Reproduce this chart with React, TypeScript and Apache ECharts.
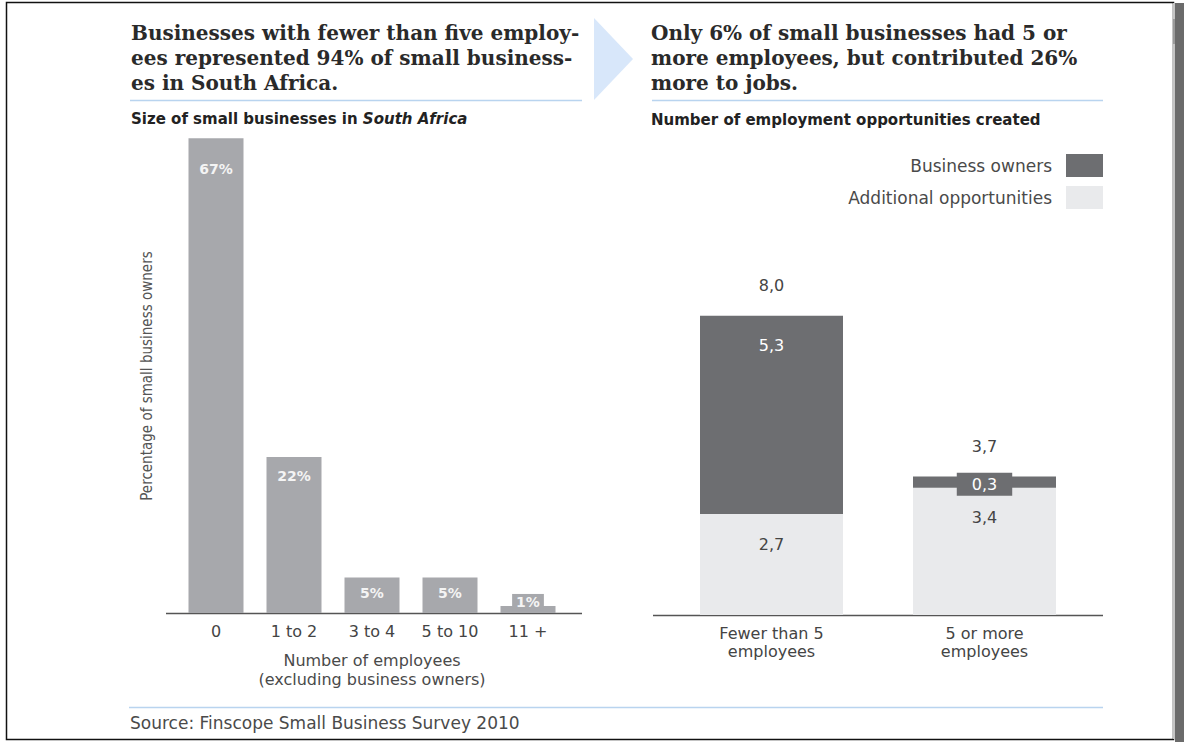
import React, { useEffect, useRef } from "react";
import * as echarts from "echarts";

const leftCategories = ["0", "1 to 2", "3 to 4", "5 to 10", "11 +"];
const leftValues = [67, 22, 5, 5, 1];

const rightCategories = ["Fewer than 5\nemployees", "5 or more\nemployees"];
const additionalOpportunities = [2.7, 3.4];
const businessOwners = [5.3, 0.3];
const totals = [8.0, 3.7];

const leftTitle = "Businesses with fewer than five employ-\nees represented 94% of small business-\nes in South Africa.";
const rightTitle = "Only 6% of small businesses had 5 or\nmore employees, but contributed 26%\nmore to jobs.";
const sourceText = "Source: Finscope Small Business Survey 2010";

const SANS = "'DejaVu Sans', Verdana, sans-serif";
const SERIF = "'DejaVu Serif', Georgia, serif";
const NARROW = "'Liberation Sans Narrow', 'DejaVu Sans Condensed', sans-serif";

const fmt = (v: number) => v.toFixed(1).replace(".", ",");

export default function App() {
  const ref = useRef<HTMLDivElement>(null);
  useEffect(() => {
    if (!ref.current) return;
    const chart = echarts.init(ref.current, null, { renderer: "svg" });
    const leftLabelDist = [24, 12, 8, 8, 0];
    const option: any = {
      animation: false,
      backgroundColor: "#ffffff",
      grid: [
        { left: 177, top: 117, width: 390, height: 496 },
        { left: 665, top: 241, width: 426, height: 374 },
      ],
      legend: {
        data: ["Business owners", "Additional opportunities"],
        orient: "vertical",
        right: 76,
        top: 149,
        align: "right",
        itemWidth: 37,
        itemHeight: 23,
        itemGap: 9,
        icon: "rect",
        textStyle: { fontFamily: SANS, fontSize: 17, color: "#4a4a4a", padding: [0, 9, 0, 0] },
      },
      xAxis: [
        {
          type: "category",
          gridIndex: 0,
          data: leftCategories,
          axisLine: { show: false },
          axisTick: { show: false },
          axisLabel: { fontFamily: SANS, fontSize: 16, color: "#444", margin: 10, interval: 0 },
          name: "Number of employees\n(excluding business owners)",
          nameLocation: "middle",
          nameGap: 38,
          nameTextStyle: { fontFamily: SANS, fontSize: 16, color: "#4a4a4a", lineHeight: 19 },
        },
        {
          type: "category",
          gridIndex: 1,
          data: rightCategories,
          axisLine: { show: false },
          axisTick: { show: false },
          axisLabel: { fontFamily: SANS, fontSize: 16, color: "#444", margin: 9, lineHeight: 18, interval: 0 },
        },
      ],
      yAxis: [
        {
          type: "value",
          gridIndex: 0,
          min: 0,
          max: 70,
          axisLine: { show: false },
          axisTick: { show: false },
          axisLabel: { show: false },
          splitLine: { show: false },
          name: "Percentage of small business owners",
          nameLocation: "middle",
          nameRotate: 90,
          nameGap: 23,
          nameTextStyle: { fontFamily: NARROW, fontSize: 15, color: "#555", padding: [0, 22, 0, 0] },
        },
        {
          type: "value",
          gridIndex: 1,
          min: 0,
          max: 10,
          axisLine: { show: false },
          axisTick: { show: false },
          axisLabel: { show: false },
          splitLine: { show: false },
        },
      ],
      series: [
        {
          type: "bar",
          name: "Share",
          xAxisIndex: 0,
          yAxisIndex: 0,
          barWidth: 55,
          itemStyle: { color: "#a7a8ac" },
          data: leftValues.map((v, i) => ({
            value: v,
            label:
              i === leftValues.length - 1
                ? {
                    position: "inside",
                    offset: [0, -7],
                    backgroundColor: "#a7a8ac",
                    padding: [2, 4, 1, 4],
                  }
                : { position: "insideTop", distance: leftLabelDist[i] },
          })),
          label: {
            show: true,
            formatter: (p: any) => p.value + "%",
            fontFamily: SANS,
            fontSize: 14,
            fontWeight: "bold",
            color: "#f4f4f4",
          },
        },
        {
          type: "bar",
          name: "Additional opportunities",
          xAxisIndex: 1,
          yAxisIndex: 1,
          stack: "jobs",
          barWidth: 143,
          itemStyle: { color: "#e9eaec" },
          data: additionalOpportunities,
          label: {
            show: true,
            position: "insideTop",
            distance: 22,
            formatter: (p: any) => fmt(p.value),
            fontFamily: SANS,
            fontSize: 16,
            color: "#444",
          },
        },
        {
          type: "bar",
          name: "Business owners",
          xAxisIndex: 1,
          yAxisIndex: 1,
          stack: "jobs",
          barWidth: 143,
          itemStyle: { color: "#6d6e71" },
          data: businessOwners.map((v) => ({
            value: v,
            label:
              v < 1
                ? { position: "inside", backgroundColor: "#6d6e71", padding: [4, 15, 3, 15], offset: [0, 2] }
                : { position: "insideTop", distance: 22 },
          })),
          label: {
            show: true,
            formatter: (p: any) => fmt(p.value),
            fontFamily: SANS,
            fontSize: 16,
            color: "#ffffff",
          },
        },
        {
          type: "bar",
          name: "Total",
          xAxisIndex: 1,
          yAxisIndex: 1,
          stack: "jobs",
          barWidth: 143,
          itemStyle: { color: "transparent" },
          data: totals.map(() => 0),
          label: {
            show: true,
            position: "top",
            distance: 22,
            formatter: (p: any) => fmt(totals[p.dataIndex]),
            fontFamily: SANS,
            fontSize: 16,
            color: "#444",
          },
        },
      ],
      graphic: [
        // frame
        { type: "rect", shape: { x: 6.5, y: 2.5, width: 1167, height: 737 }, style: { fill: "none", stroke: "#111", lineWidth: 1.5 }, silent: true },
        { type: "rect", shape: { x: 1175, y: 3, width: 9, height: 739 }, style: { fill: "#6b6b6b" }, silent: true },
        { type: "rect", shape: { x: 1173, y: 3, width: 2, height: 736 }, style: { fill: "#c4c4c4" }, silent: true },
        { type: "rect", shape: { x: 1173, y: 19, width: 2, height: 25 }, style: { fill: "#9a9a9a" }, silent: true },
        // arrow
        { type: "polygon", shape: { points: [[594, 18], [633, 59], [594, 100]] }, style: { fill: "#d8e7fa" }, silent: true },
        // titles
        {
          type: "text",
          x: 131,
          y: 20,
          style: { text: leftTitle, font: `bold 20px ${SERIF}`, fill: "#2a2a2a", lineHeight: 25, textVerticalAlign: "top" },
        },
        {
          type: "text",
          x: 651,
          y: 20,
          style: { text: rightTitle, font: `bold 20px ${SERIF}`, fill: "#2a2a2a", lineHeight: 25, textVerticalAlign: "top" },
        },
        // rules
        { type: "line", shape: { x1: 130, y1: 100.5, x2: 582, y2: 100.5 }, style: { stroke: "#b9d4ef", lineWidth: 1.5 } },
        { type: "line", shape: { x1: 652, y1: 100.5, x2: 1103, y2: 100.5 }, style: { stroke: "#b9d4ef", lineWidth: 1.5 } },
        { type: "line", shape: { x1: 129, y1: 707.5, x2: 1103, y2: 707.5 }, style: { stroke: "#b9d4ef", lineWidth: 1.5 } },
        // subtitles
        {
          type: "text",
          x: 131,
          y: 119,
          style: {
            text: "{a|Size of small businesses in }{b|South Africa}",
            textVerticalAlign: "middle",
            rich: {
              a: { font: `bold 15px ${SANS}`, fill: "#222" },
              b: { font: `italic bold 15px ${SANS}`, fill: "#222" },
            },
          },
        },
        {
          type: "text",
          x: 651,
          y: 120,
          style: { text: "Number of employment opportunities created", font: `bold 15px ${SANS}`, fill: "#222", textVerticalAlign: "middle" },
        },
        // axis baselines
        { type: "line", shape: { x1: 166, y1: 613.5, x2: 582, y2: 613.5 }, style: { stroke: "#555", lineWidth: 1.5 } },
        { type: "line", shape: { x1: 653, y1: 615.5, x2: 1103, y2: 615.5 }, style: { stroke: "#555", lineWidth: 1.5 } },
        // source
        {
          type: "text",
          x: 130,
          y: 723,
          style: { text: sourceText, font: `17px ${SANS}`, fill: "#4a4a4a", textVerticalAlign: "middle" },
        },
      ],
    };
    chart.setOption(option);
    return () => chart.dispose();
  }, []);
  return <div ref={ref} style={{ position: "absolute", left: 0, top: 0, width: 1184, height: 742 }} />;
}
